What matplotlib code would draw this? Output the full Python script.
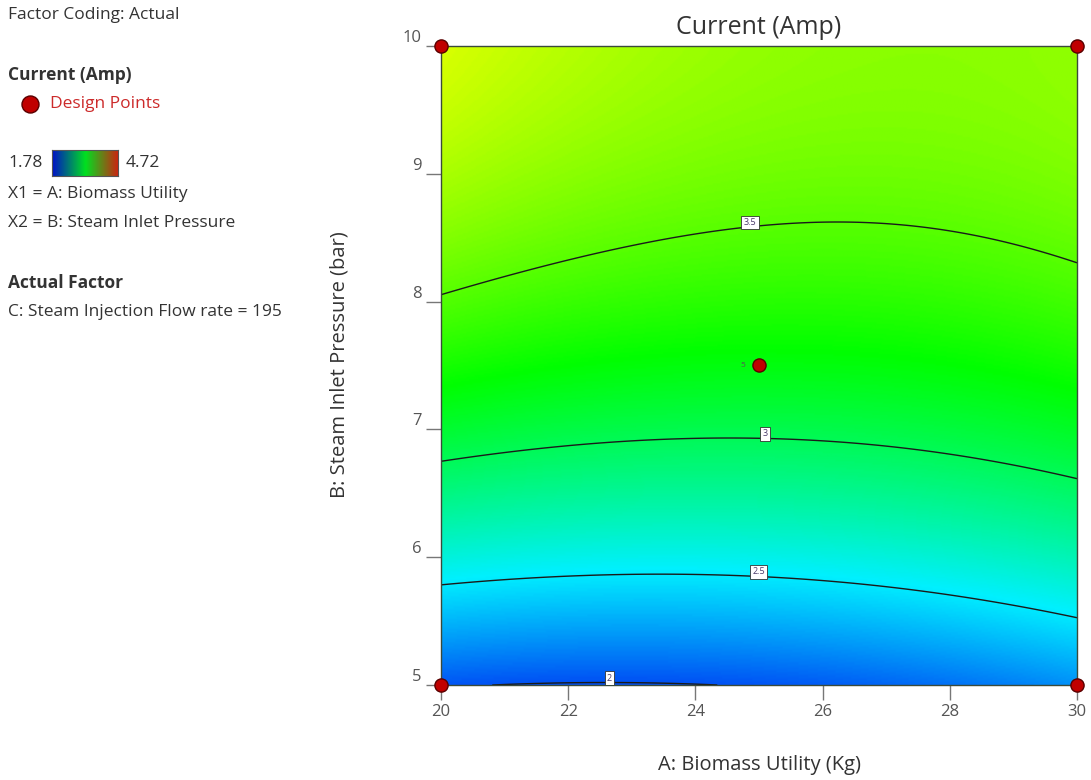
import numpy as np
import matplotlib.pyplot as plt
from matplotlib.colors import LinearSegmentedColormap
from matplotlib.transforms import ScaledTranslation

plt.rcParams['font.family'] = ['Open Sans', 'DejaVu Sans']

# factor ranges (actual units) and ticks
a_range = [20, 30]
b_range = [5, 10]
x_ticks = [20, 22, 24, 26, 28, 30]
y_ticks = [5, 6, 7, 8, 9, 10]

# quadratic response surface in coded units (A, B from -1 to +1)
# terms: intercept, A, B, AB, A^2, B^2
coefs = [3.208, -0.004, 0.829, -0.101, 0.100, -0.368]

# contour levels and where their labels sit
levels = [2.0, 2.5, 3.0, 3.5]
label_pos = [(22.65, 5.0), (25.0, 5.88), (25.1, 6.95), (24.85, 8.63)]

# design points
design_a = [20, 30, 20, 30, 25]
design_b = [5, 5, 10, 10, 7.5]
center_reps = '5'

z_lo, z_hi = 1.78, 4.72

# response grid
a = np.linspace(a_range[0], a_range[1], 400)
b = np.linspace(b_range[0], b_range[1], 400)
AA, BB = np.meshgrid(a, b)
cA = (AA - 25) / 5
cB = (BB - 7.5) / 2.5
Z = (coefs[0] + coefs[1] * cA + coefs[2] * cB + coefs[3] * cA * cB
     + coefs[4] * cA ** 2 + coefs[5] * cB ** 2)

cmap = LinearSegmentedColormap.from_list(
    'de', ['#0010f0', '#00f0ff', '#00ff00', '#ffff00', '#ff0000'])
bar_cmap = LinearSegmentedColormap.from_list(
    'de_bar', ['#0010c8', '#00e020', '#d02010'])

fig = plt.figure(figsize=(10.91, 7.80), dpi=100)
ax = fig.add_axes([441 / 1091, 1 - 685 / 780, 636 / 1091, 639 / 780])

ax.imshow(Z, origin='lower', extent=[a_range[0], a_range[1], b_range[0], b_range[1]],
          cmap=cmap, vmin=z_lo, vmax=z_hi, aspect='auto', interpolation='bilinear')
cs = ax.contour(AA, BB, Z, levels=levels, colors='#1a1a1a', linewidths=1.0)
labels = ax.clabel(cs, levels, manual=label_pos, inline=False, fontsize=6.5,
                   fmt=lambda v: f'{v:g}')
for t in labels:
    t.set_rotation(0)
    t.set_va('bottom')
    t.set_color('#4a3a6a')
    t.set_bbox(dict(boxstyle='square,pad=0.25', fc='white', ec='#333333', lw=0.6))

ax.scatter(design_a, design_b, s=90, c='#c00000', edgecolors='#5a0000',
           linewidths=1.0, zorder=5, clip_on=False)
ax.annotate(center_reps, (design_a[-1], design_b[-1]), xytext=(-12, 0),
            textcoords='offset points', fontsize=6, color='#555555',
            ha='center', va='center')

ax.set_xlim(a_range)
ax.set_ylim(b_range)
ax.set_xticks(x_ticks)
ax.set_yticks(y_ticks)
ax.tick_params(direction='out', length=11, width=1, color='#777777',
               labelcolor='#555555', labelsize=12)
ax.tick_params(axis='x', pad=3)
ax.tick_params(axis='y', pad=3)
for lab in ax.get_yticklabels():
    lab.set_transform(lab.get_transform() + ScaledTranslation(0, 0.10, fig.dpi_scale_trans))
for sp in ax.spines.values():
    sp.set_color('#3a4a3a')
    sp.set_linewidth(1.0)

W, H = 1091, 780
fig.text(759 / W, 1 - 28 / H, 'Current (Amp)', fontsize=18, color='#333333',
         ha='center', va='center')
fig.text(759 / W, 1 - 765 / H, 'A: Biomass Utility (Kg)', fontsize=14.5,
         color='#333333', ha='center', va='center')
fig.text(340 / W, 1 - 365 / H, 'B: Steam Inlet Pressure (bar)', fontsize=14.5,
         color='#333333', ha='center', va='center', rotation=90)

# left-hand legend panel
txt = dict(fontsize=12.5, color='#333333', va='center', ha='left')
fig.text(8 / W, 1 - 15 / H, 'Factor Coding: Actual', **txt)
fig.text(8 / W, 1 - 75 / H, 'Current (Amp)', fontweight='bold', **txt)
fig.text(50 / W, 1 - 104 / H, 'Design Points', fontsize=12.5, color='#cc2a2a',
         va='center', ha='left')
fig.text(8 / W, 1 - 163 / H, '1.78', **txt)
fig.text(126 / W, 1 - 163 / H, '4.72', **txt)
fig.text(8 / W, 1 - 194 / H, 'X1 = A: Biomass Utility', **txt)
fig.text(8 / W, 1 - 223 / H, 'X2 = B: Steam Inlet Pressure', **txt)
fig.text(8 / W, 1 - 283 / H, 'Actual Factor', fontweight='bold', **txt)
fig.text(8 / W, 1 - 312 / H, 'C: Steam Injection Flow rate = 195', **txt)

dot_ax = fig.add_axes([20 / W, 1 - 114 / H, 20 / W, 20 / H])
dot_ax.scatter([0], [0], s=150, c='#c00000', edgecolors='#5a0000', linewidths=1.0)
dot_ax.set_xlim(-1, 1)
dot_ax.set_ylim(-1, 1)
dot_ax.axis('off')

bar_ax = fig.add_axes([52 / W, 1 - 176 / H, 66 / W, 26 / H])
bar_ax.imshow(np.linspace(0, 1, 256)[None, :], aspect='auto', cmap=bar_cmap)
bar_ax.set_xticks([])
bar_ax.set_yticks([])
for sp in bar_ax.spines.values():
    sp.set_color('#555555')
    sp.set_linewidth(0.8)

fig.savefig('out.png', dpi=100)
